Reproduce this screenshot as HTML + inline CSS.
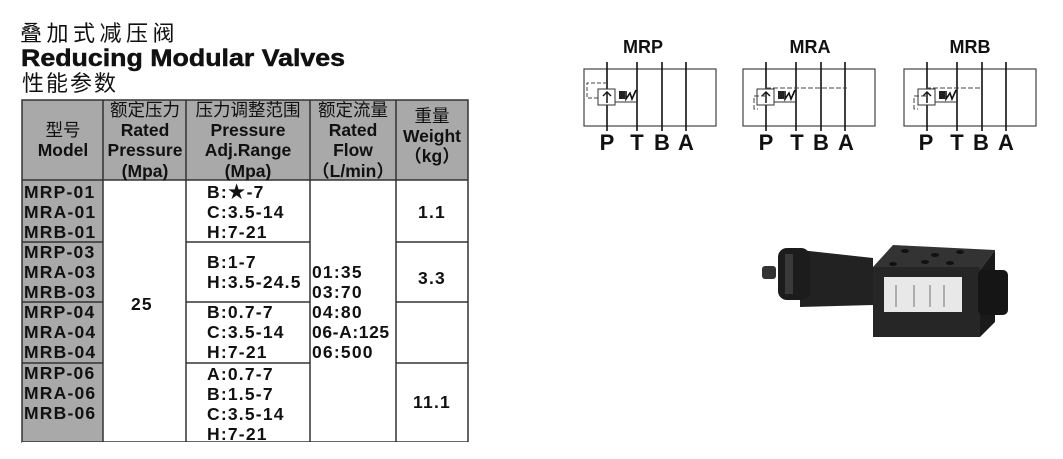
<!DOCTYPE html>
<html><head><meta charset="utf-8"><style>
html,body{margin:0;padding:0;background:#fff;}
svg{display:block;}
</style></head><body>
<svg width="1063" height="459" viewBox="0 0 1063 459" xmlns="http://www.w3.org/2000/svg" font-family="Liberation Sans, Noto Sans CJK SC, sans-serif">
<!-- titles -->
<text x="20" y="41" font-size="22" letter-spacing="4.5" fill="#111">叠加式减压阀</text>
<text x="21" y="66" font-size="24" font-weight="bold" fill="#111" textLength="324" lengthAdjust="spacingAndGlyphs" stroke="#111" stroke-width="0.5">Reducing Modular Valves</text>
<text x="22" y="91" font-size="22" letter-spacing="2" fill="#111">性能参数</text>

<!-- table fills -->
<rect x="22" y="100" width="446" height="80" fill="#a9a9a9"/>
<rect x="22" y="180" width="81" height="262" fill="#a9a9a9"/>
<g stroke="#333" stroke-width="1.5" fill="none">
<rect x="22" y="100" width="446" height="342"/>
<line x1="103" y1="100" x2="103" y2="442"/>
<line x1="186" y1="100" x2="186" y2="442"/>
<line x1="310" y1="100" x2="310" y2="442"/>
<line x1="396" y1="100" x2="396" y2="442"/>
<line x1="22" y1="180" x2="468" y2="180"/>
<line x1="22" y1="242" x2="103" y2="242"/><line x1="186" y1="242" x2="310" y2="242"/><line x1="396" y1="242" x2="468" y2="242"/>
<line x1="22" y1="302" x2="103" y2="302"/><line x1="186" y1="302" x2="310" y2="302"/><line x1="396" y1="302" x2="468" y2="302"/>
<line x1="22" y1="363" x2="103" y2="363"/><line x1="186" y1="363" x2="310" y2="363"/><line x1="396" y1="363" x2="468" y2="363"/>
</g>
<!-- header text -->
<g font-size="17.5" font-weight="bold" fill="#111" text-anchor="middle">
<text x="63" y="136" font-weight="normal">型号</text>
<text x="63" y="156">Model</text>
<text x="145" y="116" font-weight="normal">额定压力</text>
<text x="145" y="136">Rated</text>
<text x="145" y="156">Pressure</text>
<text x="145" y="177">(Mpa)</text>
<text x="248" y="116" font-weight="normal">压力调整范围</text>
<text x="248" y="136">Pressure</text>
<text x="248" y="156">Adj.Range</text>
<text x="248" y="177">(Mpa)</text>
<text x="353" y="116" font-weight="normal">额定流量</text>
<text x="353" y="136">Rated</text>
<text x="353" y="156">Flow</text>
<text x="353" y="177">（L/min）</text>
<text x="432" y="122" font-weight="normal">重量</text>
<text x="432" y="142">Weight</text>
<text x="432" y="162">（kg）</text>
</g>
<!-- body -->
<g font-size="17.5" font-weight="bold" fill="#111" letter-spacing="1.2">
<text x="24" y="198">MRP-01</text><text x="24" y="218">MRA-01</text><text x="24" y="238">MRB-01</text>
<text x="24" y="258">MRP-03</text><text x="24" y="278">MRA-03</text><text x="24" y="298">MRB-03</text>
<text x="24" y="318">MRP-04</text><text x="24" y="338">MRA-04</text><text x="24" y="358">MRB-04</text>
<text x="24" y="379">MRP-06</text><text x="24" y="399">MRA-06</text><text x="24" y="419">MRB-06</text>
<text x="131" y="310">25</text>
<text x="207" y="198">B:★-7</text><text x="207" y="218">C:3.5-14</text><text x="207" y="238">H:7-21</text>
<text x="207" y="268">B:1-7</text><text x="207" y="288">H:3.5-24.5</text>
<text x="207" y="318">B:0.7-7</text><text x="207" y="338">C:3.5-14</text><text x="207" y="358">H:7-21</text>
<text x="207" y="380">A:0.7-7</text><text x="207" y="400">B:1.5-7</text><text x="207" y="420">C:3.5-14</text><text x="207" y="440">H:7-21</text>
<text x="312" y="278">01:35</text><text x="312" y="298">03:70</text><text x="312" y="318">04:80</text><text x="312" y="338" letter-spacing="0.6">06-A:125</text><text x="312" y="358">06:500</text>
<text x="432" y="218" text-anchor="middle">1.1</text>
<text x="432" y="284" text-anchor="middle">3.3</text>
<text x="432" y="408" text-anchor="middle">11.1</text>
</g>
<rect x="22" y="442" width="450" height="17" fill="#fff"/>

<!-- schematic template -->
<defs>
<g id="sym">
<rect x="0" y="0" width="132" height="57" fill="none" stroke="#444" stroke-width="1.2"/>
<g stroke="#111" stroke-width="1.6">
<line x1="23" y1="-7" x2="23" y2="62"/><line x1="53" y1="-7" x2="53" y2="62"/>
<line x1="78" y1="-7" x2="78" y2="62"/><line x1="102" y1="-7" x2="102" y2="62"/>
</g>
<rect x="14" y="20" width="17" height="16" fill="#fff" stroke="#333"/>
<line x1="23" y1="34" x2="23" y2="23" stroke="#111" stroke-width="1.5"/>
<path d="M19 27 L23 23 L27 27" fill="none" stroke="#111" stroke-width="1.4"/>
<rect x="35" y="22" width="6" height="8" fill="#222"/>
<path d="M42 22 L42 30 L46 24 L48 30 L52 21" fill="none" stroke="#111" stroke-width="1.6"/>
<path d="M31 33 L53 33" stroke="#333" fill="none"/>
</g>
</defs>
<g font-size="18" font-weight="bold" fill="#111" text-anchor="middle">
<text x="643" y="53">MRP</text><text x="810" y="53">MRA</text><text x="970" y="53">MRB</text>
</g>
<use href="#sym" x="584" y="69"/>
<use href="#sym" x="743" y="69"/>
<use href="#sym" x="904" y="69"/>
<path d="M607 83 L587 83 L587 98 L598 98" fill="none" stroke="#444" stroke-dasharray="4,2"/>
<path d="M766 96 L754 96 L754 109 L758 109 M766 88 L847 88" fill="none" stroke="#444" stroke-dasharray="5,2"/>
<path d="M926 96 L914 96 L914 109 L918 109 M926 88 L981 88" fill="none" stroke="#444" stroke-dasharray="5,2"/>
<g font-size="22" font-weight="bold" fill="#111" text-anchor="middle">
<text x="607" y="150">P</text><text x="637" y="150">T</text><text x="662" y="150">B</text><text x="686" y="150">A</text>
<text x="766" y="150">P</text><text x="797" y="150">T</text><text x="821" y="150">B</text><text x="846" y="150">A</text>
<text x="926" y="150">P</text><text x="957" y="150">T</text><text x="981" y="150">B</text><text x="1006" y="150">A</text>
</g>

<!-- product -->
<rect x="762" y="266" width="14" height="13" rx="3" fill="#333"/>
<path d="M800 250 L873 258 L873 305 L800 307 Z" fill="#222"/>
<rect x="778" y="248" width="32" height="52" rx="9" fill="#1c1c1c"/>
<rect x="785" y="254" width="8" height="40" fill="#3a3a3a"/>
<path d="M873 267 L893 245 L995 250 L980 270 Z" fill="#333"/>
<path d="M980 270 L995 250 L995 322 L980 337 Z" fill="#1a1a1a"/>
<rect x="873" y="267" width="107" height="70" fill="#262626"/>
<rect x="884" y="277" width="78" height="35" fill="#e8e8e8"/>
<g stroke="#555" stroke-width="0.8"><line x1="896" y1="285" x2="896" y2="307"/><line x1="914" y1="285" x2="914" y2="307"/><line x1="930" y1="285" x2="930" y2="307"/><line x1="944" y1="285" x2="944" y2="307"/></g>
<rect x="978" y="270" width="30" height="45" rx="5" fill="#151515"/>
<g fill="#111"><ellipse cx="905" cy="251" rx="4" ry="2"/><ellipse cx="935" cy="255" rx="4" ry="2"/><ellipse cx="960" cy="252" rx="4" ry="2"/><ellipse cx="925" cy="262" rx="4" ry="2"/><ellipse cx="950" cy="263" rx="4" ry="2"/><ellipse cx="893" cy="264" rx="4" ry="2"/></g>
</svg>
</body></html>
